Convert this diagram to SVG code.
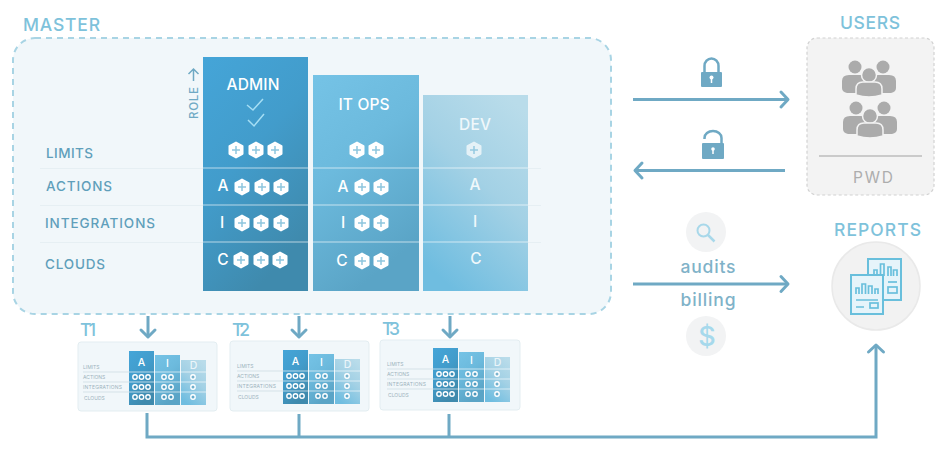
<svg xmlns="http://www.w3.org/2000/svg" xmlns:xlink="http://www.w3.org/1999/xlink" width="950" height="452" viewBox="0 0 950 452">
<style>
text{font-family:"Inter","Liberation Sans",sans-serif}
.h{font-size:17.5px;font-weight:500;fill:#7ec2db}
.r{font-size:13.5px;font-weight:500;fill:#5f9fbb}
.w{font-size:15.5px;font-weight:500;fill:#fff;text-anchor:middle}
.wd{font-size:15.5px;font-weight:500;fill:#f0f8fb;text-anchor:middle}
.m{font-size:5px;fill:#9db3bd}
.ml{font-size:10.5px;font-weight:500;fill:#fff;text-anchor:middle}
.t{font-size:17.5px;font-weight:500;fill:#7fb2c8;text-anchor:middle}
.c{fill:none;stroke:#6fa9c4;stroke-width:3}
.ch{fill:none;stroke:#6fa9c4;stroke-width:3;stroke-linecap:round;stroke-linejoin:round}
.rule{stroke:#e6eff3;stroke-width:1}
.sep{stroke:#fff;stroke-opacity:.42;stroke-width:1.5}
.doc{fill:#e6f4fa;stroke:#69bfdc;stroke-width:2}
.ln{fill:none;stroke:#69bfdc;stroke-width:1.7}
.mb{fill:#f1f7fa;stroke:#e3edf1;stroke-width:1}
</style>
<defs>
<linearGradient id="ga" x1="0" y1="0" x2=".5" y2="1"><stop offset="0" stop-color="#45a5d8"/><stop offset=".5" stop-color="#429ccb"/><stop offset="1" stop-color="#3f8aad"/></linearGradient>
<linearGradient id="gi" x1="0" y1="0" x2=".4" y2="1"><stop offset="0" stop-color="#75c3e6"/><stop offset=".45" stop-color="#6cbadd"/><stop offset="1" stop-color="#5aa4c6"/></linearGradient>
<linearGradient id="gd" x1=".8" y1="0" x2=".3" y2="1"><stop offset="0" stop-color="#b9dcea"/><stop offset=".45" stop-color="#a3d1e5"/><stop offset="1" stop-color="#6fbde0"/></linearGradient>
<g id="hex"><polygon points="0,-7.500 6.500,-3.800 6.500,3.800 0,7.500 -6.500,3.800 -6.500,-3.800" fill="#fff" stroke="#fff" stroke-width="2" stroke-linejoin="round"/><path d="M-4,0H4M0,-4V4" stroke="#8ec6de" stroke-width="1.500"/></g>
<g id="people">
<circle cx="-14" cy="-11" r="6.500" fill="#ababab"/><circle cx="14" cy="-11" r="6.500" fill="#ababab"/>
<path d="M-27,10V3Q-27,-3 -20,-3H-8Q-2,-3 0,3V15H-22Q-27,14 -27,10Z" fill="#ababab"/>
<path d="M27,10V3Q27,-3 20,-3H8Q2,-3 0,3V15H22Q27,14 27,10Z" fill="#ababab"/>
<circle cx="0" cy="-3" r="7.500" fill="#ababab" stroke="#f3f3f3" stroke-width="1.500"/>
<path d="M-13,17V11Q-13,4 -6,4H6Q13,4 13,11V17Q0,21 -13,17Z" fill="#ababab" stroke="#f3f3f3" stroke-width="1.500"/>
</g>
<g id="dot"><circle r="2.200" fill="#2f7fa6" fill-opacity=".35" stroke="#fff" stroke-width="1.400"/></g>
<g id="mini-cols">
<rect x="129" y="351" width="25" height="54" fill="url(#ga)"/>
<rect x="155" y="355" width="25" height="50" fill="url(#gi)"/>
<rect x="181" y="360" width="25" height="45" fill="url(#gd)"/>
<path class="sep" stroke-width="1" d="M129,372H206M129,382H206M129,392H206"/>
<path stroke="#c9d9e0" stroke-width=".7" d="M83,372H129M83,382H129M83,392H129"/>
<use xlink:href="#dot" href="#dot" x="135" y="377"/><use xlink:href="#dot" href="#dot" x="141.500" y="377"/><use xlink:href="#dot" href="#dot" x="148" y="377"/>
<use xlink:href="#dot" href="#dot" x="135" y="387"/><use xlink:href="#dot" href="#dot" x="141.500" y="387"/><use xlink:href="#dot" href="#dot" x="148" y="387"/>
<use xlink:href="#dot" href="#dot" x="135" y="397"/><use xlink:href="#dot" href="#dot" x="141.500" y="397"/><use xlink:href="#dot" href="#dot" x="148" y="397"/>
<use xlink:href="#dot" href="#dot" x="164" y="377"/><use xlink:href="#dot" href="#dot" x="171" y="377"/>
<use xlink:href="#dot" href="#dot" x="164" y="387"/><use xlink:href="#dot" href="#dot" x="171" y="387"/>
<use xlink:href="#dot" href="#dot" x="164" y="397"/><use xlink:href="#dot" href="#dot" x="171" y="397"/>
<use xlink:href="#dot" href="#dot" x="193" y="377"/><use xlink:href="#dot" href="#dot" x="193" y="387"/><use xlink:href="#dot" href="#dot" x="193" y="397"/>
</g>
</defs>
<rect width="950" height="452" fill="#fff"/>

<g id="master">
<rect x="13" y="38" width="598" height="276" rx="22" fill="#f1f7fa" stroke="#a8d4e4" stroke-width="2" stroke-dasharray="6 5"/>
<text class="h" x="23" y="31" textLength="77">MASTER</text>
<text class="r" x="46" y="158" textLength="47">LIMITS</text>
<text class="r" x="46" y="191" textLength="66">ACTIONS</text>
<text class="r" x="45" y="228" textLength="110">INTEGRATIONS</text>
<text class="r" x="45" y="269" textLength="60">CLOUDS</text>
<path class="rule" d="M40,168.500H203M40,205.500H203M40,242.500H203M528,168.500H541M528,205.500H541M528,242.500H541"/>
<text transform="translate(198 119) rotate(-90)" font-size="11.500" font-weight="500" fill="#6fa9c4" textLength="32">ROLE</text>
<path d="M193.500,81V69M188.500,74L193.500,69L198.500,74" fill="none" stroke="#6fa9c4" stroke-width="1.500"/>
</g>

<g id="role-admin">
<rect x="203" y="57" width="105" height="234" fill="url(#ga)"/>
<path class="sep" d="M203,168H308M203,205H308M203,242H308"/>
<text class="w" x="253" y="90" textLength="53">ADMIN</text>
<path d="M247,105L253,110L263,99M248,120L254,126L264,114" fill="none" stroke="#a5def4" stroke-width="1.500"/>
<use xlink:href="#hex" href="#hex" x="236" y="150"/><use xlink:href="#hex" href="#hex" x="256" y="150"/><use xlink:href="#hex" href="#hex" x="275" y="150"/>
<text class="w" x="223" y="191">A</text><use xlink:href="#hex" href="#hex" x="242" y="187"/><use xlink:href="#hex" href="#hex" x="262" y="187"/><use xlink:href="#hex" href="#hex" x="281" y="187"/>
<text class="w" x="222" y="228">I</text><use xlink:href="#hex" href="#hex" x="242" y="223"/><use xlink:href="#hex" href="#hex" x="261" y="223"/><use xlink:href="#hex" href="#hex" x="281" y="223"/>
<text class="w" x="223" y="265">C</text><use xlink:href="#hex" href="#hex" x="241" y="260"/><use xlink:href="#hex" href="#hex" x="261" y="260"/><use xlink:href="#hex" href="#hex" x="280" y="260"/>
</g>

<g id="role-itops">
<rect x="313" y="75" width="106" height="216" fill="url(#gi)"/>
<path class="sep" d="M313,168H419M313,205H419M313,242H419"/>
<text class="w" x="364" y="110" textLength="51">IT OPS</text>
<use xlink:href="#hex" href="#hex" x="357" y="150"/><use xlink:href="#hex" href="#hex" x="376" y="150"/>
<text class="w" x="343" y="192">A</text><use xlink:href="#hex" href="#hex" x="362" y="187"/><use xlink:href="#hex" href="#hex" x="381" y="187"/>
<text class="w" x="343" y="228">I</text><use xlink:href="#hex" href="#hex" x="362" y="223"/><use xlink:href="#hex" href="#hex" x="381" y="223"/>
<text class="w" x="342" y="266">C</text><use xlink:href="#hex" href="#hex" x="362" y="261"/><use xlink:href="#hex" href="#hex" x="381" y="261"/>
</g>

<g id="role-dev">
<rect x="423" y="95" width="105" height="196" fill="url(#gd)"/>
<path class="sep" d="M423,168H528M423,205H528M423,242H528"/>
<text class="wd" x="475" y="130" textLength="32">DEV</text>
<g opacity=".7"><use xlink:href="#hex" href="#hex" x="474" y="150"/></g>
<text class="wd" x="475" y="190">A</text>
<text class="wd" x="475" y="227">I</text>
<text class="wd" x="476" y="264">C</text>
</g>

<g id="tenant-t1">
<rect class="mb" x="78" y="342" width="139" height="69" rx="3"/>
<text class="t" x="88" y="336" style="fill:#7ec2db" textLength="16">T1</text>
<use xlink:href="#mini-cols" href="#mini-cols"/>
<text class="m" x="83" y="369">LIMITS</text><text class="m" x="83" y="379">ACTIONS</text><text class="m" x="83" y="389" textLength="39">INTEGRATIONS</text><text class="m" x="84" y="400">CLOUDS</text>
<text class="ml" x="141.500" y="366">A</text><text class="ml" x="167.500" y="367">I</text><text class="ml" x="193.500" y="369" opacity=".75">D</text>
</g>

<g id="tenant-t2">
<rect class="mb" x="230" y="341" width="139" height="70" rx="3"/>
<text class="t" x="241" y="336" style="fill:#7ec2db" textLength="18">T2</text>
<use xlink:href="#mini-cols" href="#mini-cols" x="154" y="-1"/>
<text class="m" x="237" y="368">LIMITS</text><text class="m" x="237" y="378">ACTIONS</text><text class="m" x="237" y="388" textLength="39">INTEGRATIONS</text><text class="m" x="238" y="399">CLOUDS</text>
<text class="ml" x="295.500" y="365">A</text><text class="ml" x="321.500" y="366">I</text><text class="ml" x="347.500" y="368" opacity=".75">D</text>
</g>

<g id="tenant-t3">
<rect class="mb" x="380" y="340" width="140" height="70" rx="3"/>
<text class="t" x="391" y="335" style="fill:#7ec2db" textLength="18">T3</text>
<use xlink:href="#mini-cols" href="#mini-cols" x="304" y="-3"/>
<text class="m" x="387" y="366">LIMITS</text><text class="m" x="387" y="376">ACTIONS</text><text class="m" x="387" y="386" textLength="39">INTEGRATIONS</text><text class="m" x="388" y="397">CLOUDS</text>
<text class="ml" x="445.500" y="363">A</text><text class="ml" x="471.500" y="364">I</text><text class="ml" x="497.500" y="366" opacity=".75">D</text>
</g>

<g id="users">
<text class="h" x="840" y="29" textLength="60">USERS</text>
<rect x="807" y="38" width="127" height="157" rx="10" fill="#f3f3f3" stroke="#d2d2d2" stroke-width="1.200" stroke-dasharray="3 2.500"/>
<use xlink:href="#people" href="#people" x="869" y="78"/>
<use xlink:href="#people" href="#people" x="870" y="119"/>
<path d="M819,156H922" stroke="#bdbdbd" stroke-width="1.500"/>
<text x="873" y="183" font-size="15.500" fill="#adadad" text-anchor="middle" textLength="40">PWD</text>
</g>

<g id="reports">
<text class="h" x="834" y="236" textLength="87">REPORTS</text>
<circle cx="876" cy="286" r="44" fill="#f2f2f2" stroke="#e9e9e9" stroke-width="1.500"/>
<rect class="doc" x="868" y="259" width="33" height="41"/>
<path class="ln" d="M874,276V270H877V276M880.500,276V264H884V276M888,276V267H891V276M893.500,276V270H897V276"/>
<path class="ln" d="M888,282H897"/><rect class="ln" x="888" y="287" width="9" height="6"/>
<rect class="doc" x="851" y="275" width="32" height="39"/>
<path class="ln" d="M856,294V288H859V294M862,294V284H865.500V294M868.500,294V286H872V294M875,294V289H878V294"/>
<path class="ln" d="M856,300H878M856,307H864"/><rect class="ln" x="870" y="303" width="8" height="5"/>
</g>

<g id="lock-closed">
<path d="M704.500,73V66A7,7.500 0 0 1 718.500,66V73" fill="none" stroke="#6fa9c4" stroke-width="2.500"/>
<rect x="701" y="72" width="21" height="15" rx="1" fill="#6fa9c4"/>
<circle cx="711.500" cy="77.500" r="2" fill="#fff"/><path d="M711.500,78V83" stroke="#fff" stroke-width="1.500"/>
</g>
<g id="lock-open">
<path d="M704.500,139V138A8.500,7 0 0 1 721.500,138V144" fill="none" stroke="#6fa9c4" stroke-width="2.500"/>
<rect x="702" y="143" width="22" height="16" rx="1" fill="#6fa9c4"/>
<circle cx="713" cy="149" r="1.800" fill="#fff"/><path d="M713,149V154" stroke="#fff" stroke-width="1.500"/>
</g>

<g id="audits">
<circle cx="706" cy="232" r="20" fill="#f2f3f4"/>
<circle cx="703.500" cy="230.500" r="6" fill="none" stroke="#a8d8ea" stroke-width="2"/>
<path d="M708,235L714.500,241.500" stroke="#a8d8ea" stroke-width="2.500"/>
<text class="t" x="708" y="273" textLength="55">audits</text>
</g>
<g id="billing">
<text class="t" x="708" y="306" textLength="55">billing</text>
<circle cx="706" cy="336" r="20" fill="#f2f3f4"/>
<text x="707" y="346" font-size="27" font-weight="500" fill="#a6d9ec" text-anchor="middle">$</text>
</g>

<g id="connectors">
<path class="c" d="M633,99.500H786"/><path class="ch" d="M781,92L788,99.500L781,107"/>
<path class="c" d="M636,170.500H785"/><path class="ch" d="M642,163L635,170.500L642,178"/>
<path class="c" d="M633,284H786"/><path class="ch" d="M781,276.500L788,284L781,291.500"/>
<path class="c" d="M148,316V337"/><path class="ch" d="M141,330L148,337L155,330"/>
<path class="c" d="M299,316V337"/><path class="ch" d="M292,330L299,337L306,330"/>
<path class="c" d="M450,316V337"/><path class="ch" d="M443,330L450,337L457,330"/>
<path class="c" d="M147,413V437H876V346"/><path class="ch" d="M868.500,352L876,345L883.500,352"/>
<path class="c" d="M299,414V437M449,414V437"/>
</g>
</svg>
